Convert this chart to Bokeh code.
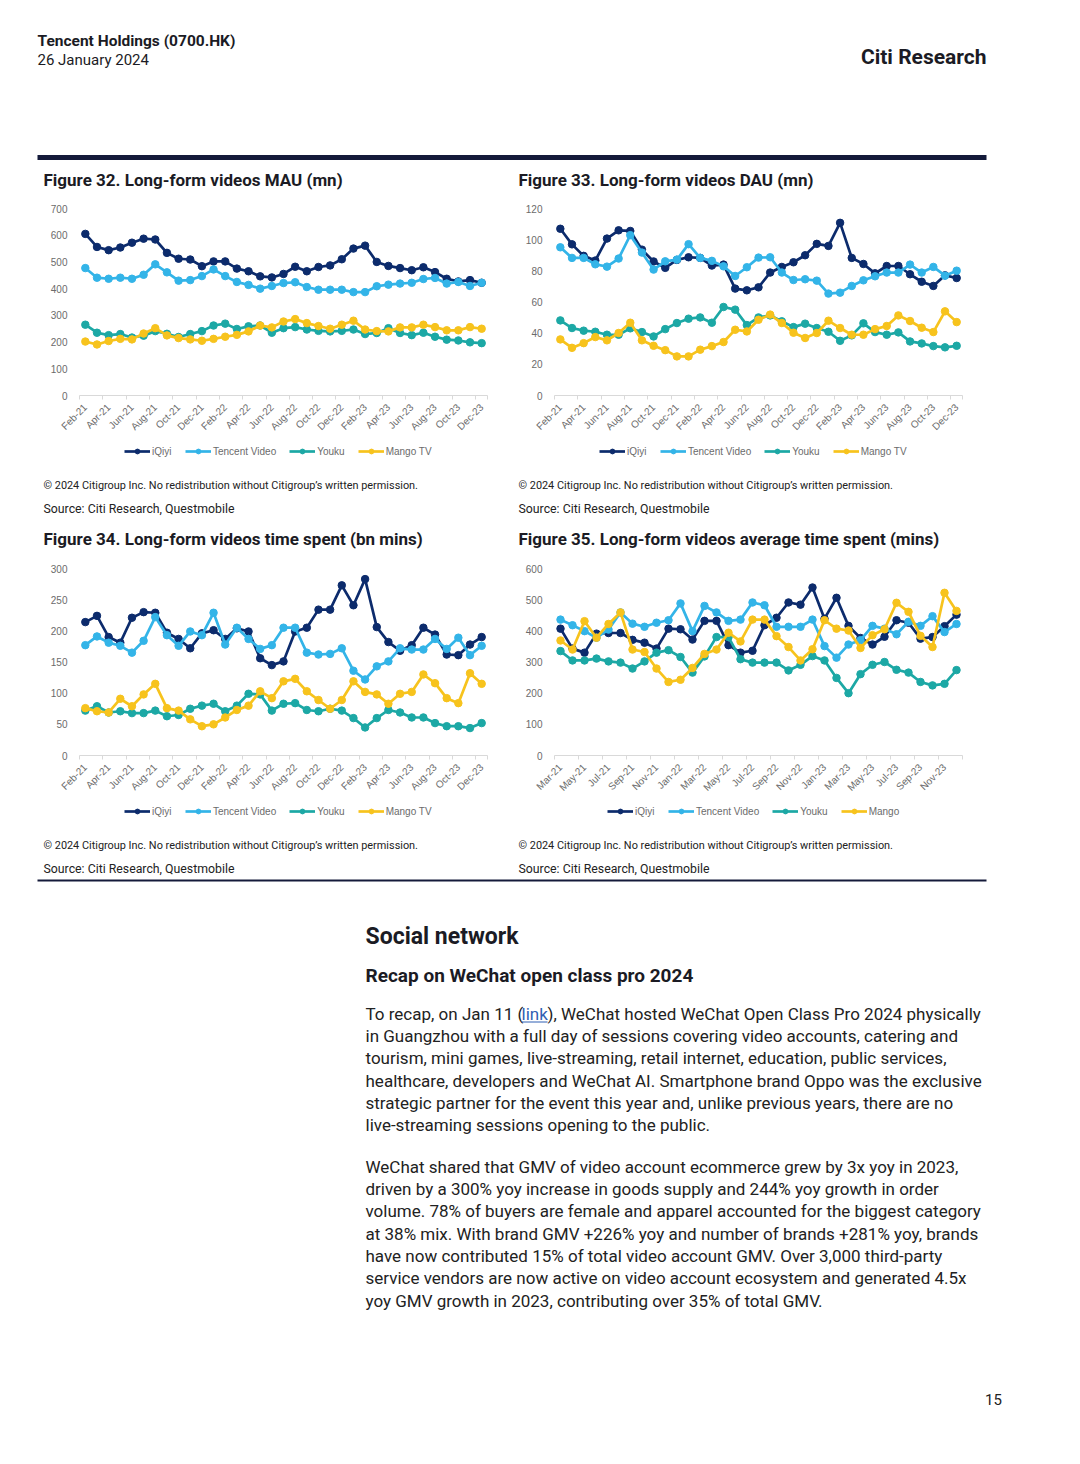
from math import pi
from bokeh.plotting import figure
from bokeh.models import (Range1d, FixedTicker, SingleIntervalTicker, Legend,
                          LegendItem, ColumnDataSource)
from bokeh.layouts import column, row
from bokeh.embed import file_html
from bokeh.resources import INLINE
from bokeh.core.properties import value

# ---------------- data ----------------
months_a = ["Feb-21", "Mar-21", "Apr-21", "May-21", "Jun-21", "Jul-21", "Aug-21", "Sep-21",
            "Oct-21", "Nov-21", "Dec-21", "Jan-22", "Feb-22", "Mar-22", "Apr-22", "May-22",
            "Jun-22", "Jul-22", "Aug-22", "Sep-22", "Oct-22", "Nov-22", "Dec-22", "Jan-23",
            "Feb-23", "Mar-23", "Apr-23", "May-23", "Jun-23", "Jul-23", "Aug-23", "Sep-23",
            "Oct-23", "Nov-23", "Dec-23"]
months_b = ["Mar-21", "Apr-21", "May-21", "Jun-21", "Jul-21", "Aug-21", "Sep-21",
            "Oct-21", "Nov-21", "Dec-21", "Jan-22", "Feb-22", "Mar-22", "Apr-22", "May-22",
            "Jun-22", "Jul-22", "Aug-22", "Sep-22", "Oct-22", "Nov-22", "Dec-22", "Jan-23",
            "Feb-23", "Mar-23", "Apr-23", "May-23", "Jun-23", "Jul-23", "Aug-23", "Sep-23",
            "Oct-23", "Nov-23", "Dec-23"]

mau_iqiyi = [605, 556, 544, 554, 572, 587, 584, 534, 512, 509, 484, 502, 502, 475, 465, 446, 442, 455,
             482, 465, 481, 487, 510, 550, 561, 500, 485, 477, 469, 480, 462, 437, 427, 432, 422]
mau_tencent = [477, 441, 437, 441, 437, 452, 491, 461, 430, 432, 447, 472, 447, 425, 414, 400, 410, 421,
               424, 406, 396, 396, 396, 387, 387, 409, 415, 419, 422, 436, 440, 419, 425, 410, 422]
mau_youku = [265, 235, 226, 230, 217, 224, 241, 231, 219, 230, 241, 262, 269, 249, 259, 262, 235, 252,
             256, 247, 242, 240, 242, 247, 230, 234, 252, 234, 226, 235, 220, 209, 206, 199, 196]
mau_mango = [202, 191, 204, 212, 210, 232, 252, 225, 215, 210, 205, 212, 220, 227, 240, 262, 255, 277,
             286, 271, 260, 250, 265, 280, 247, 241, 240, 255, 255, 265, 256, 244, 244, 256, 250]

dau_iqiyi = [107, 97, 89.6, 86.6, 100.7, 106, 105.6, 93.6, 86, 81.9, 87, 88.7, 88.3, 83.4, 84, 68.6,
             67.5, 69.4, 78.9, 82.5, 85.5, 90, 97.3, 96, 110.8, 88.3, 84.4, 78.4, 83.1, 83.1, 77.8,
             73, 70.3, 77.1, 75.4]
dau_tencent = [95.1, 88.3, 88.3, 84.2, 82.7, 87.9, 102.9, 91.7, 80.8, 86.1, 87.2, 97.1, 88.3, 86.4,
               82.9, 76.7, 82.3, 88.5, 88.7, 78.9, 74.1, 74.6, 73.7, 65.4, 66, 70.3, 73.9, 76.5,
               78.9, 78.9, 84, 78.9, 82.5, 76.9, 80.1]
dau_youku = [48.2, 43.3, 41.6, 40.9, 39, 39, 43.1, 40.7, 37.9, 42.6, 46.5, 49.3, 50.1, 46.7, 56.8,
             55.1, 45.2, 50.1, 51.4, 47.6, 43.9, 46.1, 43.3, 40.9, 35.1, 38.6, 46.3, 40.7, 39, 40.5,
             34.7, 33.4, 31.7, 30.9, 31.9]
dau_mango = [36, 30.6, 33.6, 37.5, 35.4, 40.1, 46.7, 35.4, 31.9, 29.1, 25.1, 25.1, 29.4, 31.7, 34.3,
             42.2, 41.1, 48.6, 51.9, 46.5, 40.3, 36.9, 40.1, 48, 43.3, 39, 39, 42.6, 44.6, 51.4, 47.8,
             43.5, 40.7, 54, 47.1]

time_iqiyi = [214, 224, 190, 181, 221, 230, 229, 197, 187, 172, 196, 201, 187, 204, 199, 156, 145, 151,
              199, 205, 234, 234, 273, 241, 283, 206, 182, 168, 177, 205, 194, 162, 161, 178, 190]
time_tencent = [177, 191, 181, 176, 165, 184, 222, 193, 176, 199, 193, 229, 178, 205, 187, 171, 177, 205,
                205, 165, 162, 163, 172, 136, 122, 143, 151, 172, 170, 170, 187, 171, 189, 161, 176]
time_youku = [72, 79, 69, 71, 68, 68, 72, 63, 65, 75, 80, 83, 71, 80, 99, 98, 72, 83, 84, 73, 71, 75,
              72, 60, 45, 60, 73, 69, 61, 61, 52, 47, 47, 44, 52]
time_mango = [76, 71, 69, 91, 79, 98, 115, 76, 72, 58, 47, 50, 61, 73, 80, 103, 92, 119, 123, 103, 89,
              75, 89, 119, 102, 98, 83, 99, 102, 130, 116, 92, 84, 132, 115]

avg_iqiyi = [407, 343, 330, 391, 393, 393, 371, 362, 343, 407, 405, 372, 432, 432, 354, 330, 336, 418,
             442, 491, 484, 539, 439, 506, 416, 377, 356, 381, 434, 426, 375, 380, 415, 452]
avg_tencent = [436, 418, 399, 378, 404, 459, 423, 413, 426, 434, 488, 399, 480, 459, 432, 436, 491, 482,
               413, 413, 413, 436, 351, 314, 356, 370, 416, 407, 389, 429, 416, 447, 396, 422]
avg_youku = [335, 305, 305, 311, 302, 298, 279, 302, 330, 338, 316, 266, 318, 380, 380, 309, 298, 298,
             298, 273, 291, 319, 305, 249, 200, 261, 291, 300, 275, 266, 236, 225, 230, 274]
avg_mango = [369, 340, 431, 378, 422, 459, 340, 332, 279, 236, 243, 281, 326, 340, 394, 366, 436, 436,
             383, 348, 305, 341, 434, 407, 401, 345, 386, 405, 490, 461, 384, 348, 522, 464]

names_tv = ["iQiyi", "Tencent Video", "Youku", "Mango TV"]
names_mango = ["iQiyi", "Tencent Video", "Youku", "Mango"]

titles = ["Figure 32. Long-form videos MAU (mn)",
          "Figure 33. Long-form videos DAU (mn)",
          "Figure 34. Long-form videos time spent (bn mins)",
          "Figure 35. Long-form videos average time spent (mins)"]
copyright_txt = "\u00a9 2024 Citigroup Inc. No redistribution without Citigroup\u2019s written permission."
source_txt = "Source: Citi Research, Questmobile"

para1_first = ["To recap, on Jan 11 (", "link",
               "), WeChat hosted WeChat Open Class Pro 2024 physically"]
para1_rest = ["in Guangzhou with a full day of sessions covering video accounts, catering and",
              "tourism, mini games, live-streaming, retail internet, education, public services,",
              "healthcare, developers and WeChat AI. Smartphone brand Oppo was the exclusive",
              "strategic partner for the event this year and, unlike previous years, there are no",
              "live-streaming sessions opening to the public."]
para2 = ["WeChat shared that GMV of video account ecommerce grew by 3x yoy in 2023,",
         "driven by a 300% yoy increase in goods supply and 244% yoy growth in order",
         "volume. 78% of buyers are female and apparel accounted for the biggest category",
         "at 38% mix. With brand GMV +226% yoy and number of brands +281% yoy, brands",
         "have now contributed 15% of total video account GMV. Over 3,000 third-party",
         "service vendors are now active on video account ecosystem and generated 4.5x",
         "yoy GMV growth in 2023, contributing over 35% of total GMV."]

# ---------------- style ----------------
COLORS = ["#0c2b6c", "#33b4e8", "#1ca8a5", "#f7c31d"]
F_AX = "Liberation Sans"
F_CAP = "Roboto"
F_TXT = "Roboto"
INK = "#1b1b24"
BODY = "#222222"
NAVY_RULE = "#141a3a"
AX_GREY = "#6b6b6b"
LINE_W = 2.7
MARK = 7.5
NAN = float("nan")


def make_chart(months, series, ymax, ystep, width, bl):
    n = len(months)
    p = figure(width=width, height=240, x_range=Range1d(-0.5, n - 0.5),
               y_range=Range1d(0, ymax), output_backend="svg", toolbar_location=None,
               min_border_left=bl, min_border_right=width - bl - 408, min_border_top=8,
               min_border_bottom=45)
    p.outline_line_color = None
    p.xgrid.visible = False
    p.ygrid.visible = False
    xs = list(range(n))
    for vals, col in zip(series, COLORS):
        src = ColumnDataSource(dict(x=xs, y=vals))
        p.line("x", "y", source=src, line_color=col, line_width=LINE_W)
        p.scatter("x", "y", source=src, size=MARK, fill_color=col, line_color=col)

    xa = p.xaxis[0]
    xa.ticker = FixedTicker(ticks=list(range(0, n, 2)),
                            minor_ticks=sorted(set([i - 0.5 for i in range(0, n + 1, 2)] + [n - 0.5])))
    xa.major_label_overrides = {i: months[i] for i in range(0, n, 2)}
    xa.major_label_orientation = pi / 4
    xa.axis_line_color = "#d9d9d9"
    xa.major_tick_line_color = None
    xa.major_tick_in = 0
    xa.major_tick_out = 0
    xa.minor_tick_line_color = "#d9d9d9"
    xa.minor_tick_in = 0
    xa.minor_tick_out = 4
    xa.major_label_standoff = 6
    xa.major_label_text_font = F_AX
    xa.major_label_text_font_size = "10px"
    xa.major_label_text_color = AX_GREY

    ya = p.yaxis[0]
    ya.ticker = SingleIntervalTicker(interval=ystep)
    ya.axis_line_color = None
    ya.major_tick_line_color = None
    ya.minor_tick_line_color = None
    ya.major_tick_in = 0
    ya.major_tick_out = 0
    ya.major_label_standoff = 8
    ya.major_label_text_font = F_AX
    ya.major_label_text_font_size = "10px"
    ya.major_label_text_color = AX_GREY
    return p


def page_fig(width, height, x0, y0):
    p = figure(width=width, height=height, x_range=Range1d(x0, x0 + width),
               y_range=Range1d(y0 + height, y0), output_backend="svg",
               toolbar_location=None, min_border=0, x_axis_location=None,
               y_axis_location=None)
    p.outline_line_color = None
    p.xgrid.visible = False
    p.ygrid.visible = False
    return p


def put(p, x, y, txt, size, font=F_TXT, bold=False, color=BODY, align="left", baseline="middle"):
    p.text(x=[x], y=[y], text=[txt], text_font=value(font), text_font_size=size,
           text_font_style="bold" if bold else "normal", text_color=color,
           text_align=align, text_baseline=baseline)


def captions(p, y_copy, y_src):
    for x in (43, 518):
        put(p, x, y_copy, copyright_txt, "10.9px", font=F_CAP)
        put(p, x, y_src, source_txt, "12.3px", font=F_CAP)


def legend_keys(p):
    # legend key renderers: a single NaN point each, so nothing is plotted,
    # they only provide the line + marker styling for the legend samples
    keys = []
    for col in COLORS:
        src = ColumnDataSource(dict(x=[NAN], y=[NAN]))
        lr = p.line("x", "y", source=src, line_color=col, line_width=LINE_W)
        sr = p.scatter("x", "y", source=src, size=MARK, fill_color=col, line_color=col)
        keys.append([lr, sr])
    return keys


def add_legend(p, keys, names, x, y):
    items = [LegendItem(label=nm, renderers=k) for nm, k in zip(names, keys)]
    leg = Legend(items=items, orientation="horizontal", location=(x, y),
                 label_text_font=F_AX, label_text_font_size="10px",
                 label_text_color=AX_GREY, glyph_width=26, glyph_height=12,
                 label_height=12, label_standoff=2, spacing=13, padding=0, margin=0,
                 border_line_color=None, background_fill_alpha=0)
    p.add_layout(leg)


# ---------------- header (page y 0..200) ----------------
header = page_fig(1072, 200, 0, 0)
put(header, 37, 40, "Tencent Holdings (0700.HK)", "15.5px", bold=True, color=INK)
put(header, 37, 59, "26 January 2024", "15px", color=INK)
put(header, 986, 56, "Citi Research", "21px", bold=True, color=INK, align="right")
header.segment(x0=[37], y0=[157], x1=[986], y1=[157], line_width=5, line_color=NAVY_RULE)
put(header, 43, 179, titles[0], "17px", bold=True, color=INK)
put(header, 518, 179, titles[1], "17px", bold=True, color=INK)

# ---------------- charts row 1 (page y 200..440) ----------------
f32 = make_chart(months_a, [mau_iqiyi, mau_tencent, mau_youku, mau_mango], 700, 100, 512, 79)
f33 = make_chart(months_a, [dau_iqiyi, dau_tencent, dau_youku, dau_mango], 120, 20, 560, 42)

# ---------------- middle (page y 440..560) ----------------
mid = page_fig(1072, 120, 0, 440)
k_mid = legend_keys(mid)
add_legend(mid, k_mid, names_tv, 124, 103)
add_legend(mid, k_mid, names_tv, 599, 103)
captions(mid, 485, 508)
put(mid, 43, 538, titles[2], "17px", bold=True, color=INK)
put(mid, 518, 538, titles[3], "17px", bold=True, color=INK)

# ---------------- charts row 2 (page y 560..800) ----------------
f34 = make_chart(months_a, [time_iqiyi, time_tencent, time_youku, time_mango], 300, 50, 512, 79)
f35 = make_chart(months_b, [avg_iqiyi, avg_tencent, avg_youku, avg_mango], 600, 100, 560, 42)

# ---------------- footer (page y 800..1456) ----------------
footer = page_fig(1072, 656, 0, 800)
k_ft = legend_keys(footer)
add_legend(footer, k_ft, names_tv, 124, 639)
add_legend(footer, k_ft, names_mango, 607, 639)
captions(footer, 845, 868)
footer.segment(x0=[37], y0=[880], x1=[986], y1=[880], line_width=2, line_color=NAVY_RULE)
put(footer, 365, 936, "Social network", "23px", bold=True, color=INK)
put(footer, 365, 975, "Recap on WeChat open class pro 2024", "19px", bold=True, color=INK)

LH = 22.35
body_x, body_y, body_t = [], [], []
for i, t in enumerate(para1_rest):
    body_x.append(365); body_y.append(1013 + LH * (i + 1)); body_t.append(t)
for i, t in enumerate(para2):
    body_x.append(365); body_y.append(1166 + LH * i); body_t.append(t)
footer.text(x="x", y="y", text="t", source=ColumnDataSource(dict(x=body_x, y=body_y, t=body_t)),
            text_font=value(F_TXT), text_font_size="17px", text_color=BODY,
            text_baseline="middle")
put(footer, 365, 1013, para1_first[0], "17px")
put(footer, 521, 1013, para1_first[1], "17px", color="#2f5fb3")
footer.segment(x0=[521], y0=[1021.5], x1=[547], y1=[1021.5], line_width=1, line_color="#2f5fb3")
put(footer, 547, 1013, para1_first[2], "17px")
put(footer, 993, 1399, "15", "15px", align="center")

layout = column(header, row(f32, f33), mid, row(f34, f35), footer)
open("out.html", "w").write(file_html(layout, INLINE))
